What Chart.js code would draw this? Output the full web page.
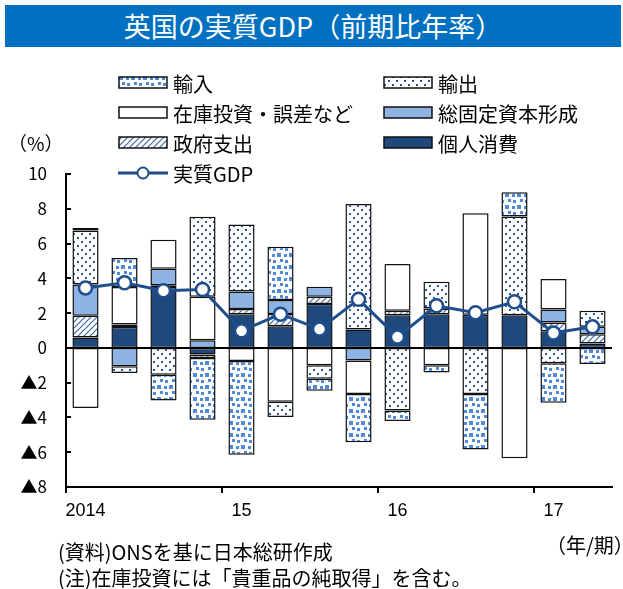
<!DOCTYPE html>
<html lang="ja">
<head>
<meta charset="utf-8">
<title>英国の実質GDP（前期比年率）</title>
<script src="https://cdn.jsdelivr.net/npm/chart.js"></script>
<style>
    body { margin: 0; width: 623px; height: 589px; background: #fff; overflow: hidden; position: relative;
           font-family: 'Noto Sans CJK JP', 'Noto Sans', sans-serif; color: #000; }
    #titulo { position: absolute; left: 5px; top: 5px; width: 616px; height: 42px; background: #0070c0;
              color: #fff; font-size: 27px; line-height: 42px; text-align: center; }
    #grafico { position: absolute; left: 0; top: 0; }
    .leg { position: absolute; height: 24px; display: flex; align-items: center; font-size: 20px; white-space: nowrap; }
    .leg canvas { margin-right: 5px; }
    .txt { position: absolute; white-space: nowrap; line-height: 1; }
</style>
</head>
<body>
<div id="titulo">英国の実質GDP（前期比年率）</div>
<canvas id="grafico" width="623" height="589"></canvas>
<div id="legenda"></div>
<div class="txt" style="left:8px; top:133px; font-size:19px;">（%）</div>
<div class="txt" style="left:546px; top:535px; font-size:20px;">（年/期）</div>
<div class="txt" style="left:58px; top:542px; font-size:20px;">(資料)ONSを基に日本総研作成</div>
<div class="txt" style="left:58px; top:568px; font-size:20px;">(注)在庫投資には「貴重品の純取得」を含む。</div>
<script>
// dados (2014 1Q - 2017 2Q)
const trimestres = ['2014', '', '', '', '15', '', '', '', '16', '', '', '', '17', ''];
const consumo    = [0.6, 1.2, 3.5, -0.38, 1.94, 1.25, 2.52, 1.06, 1.88, 1.94, 1.9, 1.88, 0.96, 0.25];
const governo    = [1.25, 0.15, 0.1, -0.2, 0.3, 0.7, 0.42, null, 0.25, 0.33, null, null, 0.5, 0.54];
const formacao   = [1.8, -1.05, 0.95, 0.44, 1.0, 0.8, 0.58, -0.73, null, null, null, null, 0.75, 0.42];
const estoque    = [-3.45, 2.15, 1.67, 2.5, -0.75, -3.1, -1.0, -1.92, 2.69, -1.0, 5.84, -6.35, 1.75, null];
const exportacao = [3.1, -0.4, -1.55, 4.6, 3.85, -0.87, -0.77, 7.22, -3.6, 1.53, -2.65, 5.67, -0.88, 0.92];
const importacao = [0.15, 1.67, -1.47, -3.55, -5.4, 3.07, -0.7, -2.77, -0.6, -0.42, -3.2, 1.4, -2.27, -0.92];
const pibReal    = [3.45, 3.75, 3.29, 3.36, 0.98, 1.94, 1.08, 2.79, 0.63, 2.42, 2.02, 2.65, 0.86, 1.21];

const AZUL_ESCURO = '#1f497d';
const AZUL_CLARO = '#8db4e2';
const AZUL_LINHA = '#1f4e8c';

function criarTile(w, h, desenhar) {
    var c = document.createElement('canvas');
    c.width = w;
    c.height = h;
    var g = c.getContext('2d');
    g.fillStyle = '#fff';
    g.fillRect(0, 0, w, h);
    desenhar(g);
    return c;
}

// quadrados azuis (importação)
const tileImport = criarTile(12, 12, function (g) {
    g.fillStyle = '#4f8ad6';
    g.fillRect(1, 1, 4, 4);
    g.fillRect(8, 2, 3, 3);
    g.fillRect(4, 7, 3, 3);
    g.fillRect(9, 8, 3, 3);
});
// pontinhos (exportação)
const tileExport = criarTile(8, 8, function (g) {
    g.fillStyle = '#2a5590';
    g.fillRect(1, 1, 2, 2);
    g.fillRect(5, 5, 2, 2);
});
// hachurado (governo)
const tileGov = criarTile(6, 6, function (g) {
    g.strokeStyle = '#3a67a8';
    g.lineWidth = 1.2;
    g.beginPath();
    g.moveTo(0, 6); g.lineTo(6, 0);
    g.moveTo(-1, 1); g.lineTo(1, -1);
    g.moveTo(5, 7); g.lineTo(7, 5);
    g.stroke();
});

const ctx = document.getElementById('grafico').getContext('2d');
const padraoImport = ctx.createPattern(tileImport, 'repeat');
const padraoExport = ctx.createPattern(tileExport, 'repeat');
const padraoGov = ctx.createPattern(tileGov, 'repeat');

// legenda em HTML
const itensLegenda = [
    { nome: '輸入', fundo: padraoImport, x: 118, y: 83 },
    { nome: '輸出', fundo: padraoExport, x: 383, y: 83 },
    { nome: '在庫投資・誤差など', fundo: '#fff', x: 118, y: 113 },
    { nome: '総固定資本形成', fundo: AZUL_CLARO, x: 383, y: 113 },
    { nome: '政府支出', fundo: padraoGov, x: 118, y: 143 },
    { nome: '個人消費', fundo: AZUL_ESCURO, x: 383, y: 143 },
    { nome: '実質GDP', linha: true, x: 118, y: 173 }
];
const legenda = document.getElementById('legenda');
itensLegenda.forEach(function (item) {
    var div = document.createElement('div');
    div.className = 'leg';
    div.style.left = item.x + 'px';
    div.style.top = (item.y - 12) + 'px';
    var sw = document.createElement('canvas');
    sw.width = 50;
    sw.height = 16;
    var g = sw.getContext('2d');
    if (item.linha) {
        g.strokeStyle = AZUL_LINHA;
        g.lineWidth = 3;
        g.beginPath(); g.moveTo(0, 8); g.lineTo(50, 8); g.stroke();
        g.fillStyle = '#fff';
        g.lineWidth = 2;
        g.beginPath(); g.arc(25, 8, 5.5, 0, Math.PI * 2); g.fill(); g.stroke();
    } else {
        g.fillStyle = item.fundo;
        g.fillRect(1, 2, 48, 11);
        g.strokeStyle = '#111';
        g.lineWidth = 1.5;
        g.strokeRect(1, 2, 48, 11);
    }
    var span = document.createElement('span');
    span.textContent = item.nome;
    div.appendChild(sw);
    div.appendChild(span);
    legenda.appendChild(div);
});

// marcas do eixo y para dentro e linha do zero
const marcasEixo = {
    id: 'marcasEixo',
    afterDatasetsDraw(chart) {
        const y = chart.scales.y;
        const area = chart.chartArea;
        const c = chart.ctx;
        c.save();
        c.strokeStyle = '#000';
        c.lineWidth = 2;
        const py0 = Math.round(y.getPixelForValue(0));
        c.beginPath();
        c.moveTo(area.left, py0);
        c.lineTo(area.right, py0);
        c.stroke();
        y.ticks.forEach(function (t, i) {
            const py = Math.round(y.getPixelForTick(i));
            c.beginPath();
            c.moveTo(area.left, py);
            c.lineTo(area.left + 5, py);
            c.stroke();
        });
        c.restore();
    }
};

function barra(label, dados, fundo) {
    return {
        type: 'bar',
        label: label,
        data: dados,
        backgroundColor: fundo,
        borderColor: '#111',
        borderWidth: 1.5,
        borderSkipped: false,
        stack: 'comp',
        order: 1,
        barPercentage: 0.67,
        categoryPercentage: 1.0
    };
}

new Chart(ctx, {
    type: 'bar',
    data: {
        labels: trimestres,
        datasets: [
            {
                type: 'line',
                label: '実質GDP',
                data: pibReal,
                borderColor: AZUL_LINHA,
                borderWidth: 3,
                pointRadius: 6.5,
                pointBackgroundColor: '#fff',
                pointBorderColor: AZUL_LINHA,
                pointBorderWidth: 2.5,
                tension: 0,
                stack: 'gdp',
                order: 0
            },
            barra('個人消費', consumo, AZUL_ESCURO),
            barra('政府支出', governo, padraoGov),
            barra('総固定資本形成', formacao, AZUL_CLARO),
            barra('在庫投資・誤差など', estoque, '#fff'),
            barra('輸出', exportacao, padraoExport),
            barra('輸入', importacao, padraoImport)
        ]
    },
    options: {
        responsive: false,
        animation: false,
        layout: { padding: { left: 6, right: 11, top: 174, bottom: 0 } },
        plugins: {
            legend: { display: false },
            tooltip: { enabled: false }
        },
        scales: {
            x: {
                stacked: true,
                offset: true,
                border: { display: true, color: '#000', width: 2 },
                grid: {
                    display: true,
                    offset: true,
                    drawOnChartArea: false,
                    drawTicks: true,
                    tickLength: 6,
                    lineWidth: 2,
                    color: function (c) {
                        return (c.index !== undefined && c.index % 4 === 0) ? '#000' : 'rgba(0,0,0,0)';
                    }
                },
                ticks: {
                    autoSkip: false, maxRotation: 0, padding: 7, color: '#000',
                    font: { family: "'Liberation Sans', sans-serif", size: 18 }
                },
                afterFit: function (s) { s.height = 102; }
            },
            y: {
                stacked: true,
                min: -8,
                max: 10,
                border: { display: true, color: '#000', width: 2 },
                grid: { display: false, drawTicks: false },
                ticks: {
                    stepSize: 2,
                    padding: 19,
                    color: '#000',
                    font: { family: "'Noto Sans CJK JP', sans-serif", size: 17 },
                    callback: function (v) { return v < 0 ? '▲' + (-v) : String(v); }
                },
                afterFit: function (s) { s.width = 60; }
            }
        }
    },
    plugins: [marcasEixo]
});
</script>
</body>
</html>
